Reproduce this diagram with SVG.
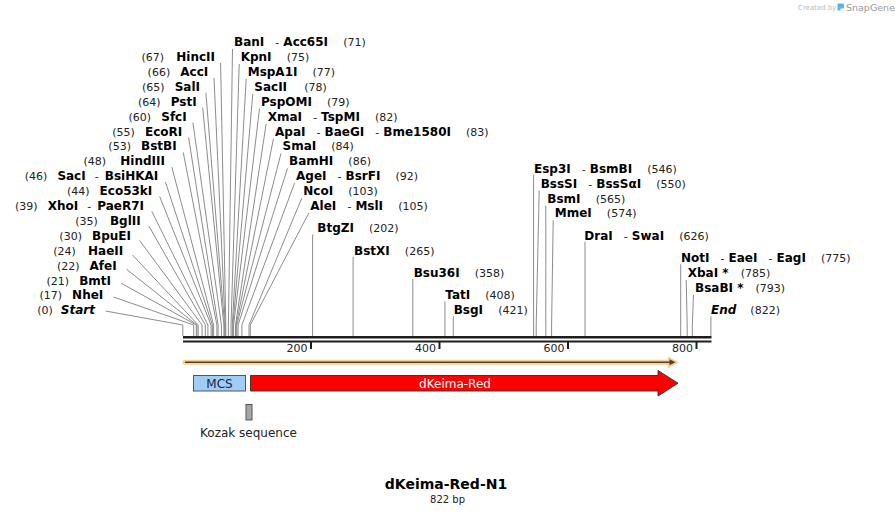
<svg xmlns="http://www.w3.org/2000/svg" width="895" height="515" viewBox="0 0 895 515">
<style>
text{font-family:"DejaVu Sans",Verdana,sans-serif}
.n{font-size:12px;font-weight:bold;fill:#000}
.p{font-size:11px;font-weight:normal;font-style:normal;fill:#222}
.it{font-style:italic}
.e{text-anchor:end}
.c{text-anchor:middle}
.ln{fill:none;stroke:#8c8c8c;stroke-width:1}
.f{font-size:12px}
</style>
<rect width="895" height="515" fill="#fff"/>

<g id="watermark">
<text x="798" y="10" style="font-size:7px;fill:#bdbdbd">Created by</text>
<path d="M837.5,3.5 h5 a1.5,1.5 0 0 1 1.5,1.5 v2 a1.5,1.5 0 0 1 -1.5,1.5 h-2 v2 h-3 z" fill="#5ab4ee"/>
<text x="846" y="10.5" style="font-size:9.5px;fill:#9a9a9a">SnapGene</text>
</g>

<g id="connectors">
<polyline class="ln" points="220.6,63 225.8,325 225.8,336"/>
<polyline class="ln" points="214,77.9 225.2,325 225.2,336"/>
<polyline class="ln" points="205.9,92.8 224.6,325 224.6,336"/>
<polyline class="ln" points="202.7,107.6 223.9,325 223.9,336"/>
<polyline class="ln" points="192.9,122.5 221.4,325 221.4,336"/>
<polyline class="ln" points="188.6,137.4 218.1,325 218.1,336"/>
<polyline class="ln" points="183.2,152.3 216.9,325 216.9,336"/>
<polyline class="ln" points="171.8,167.1 213.6,325 213.6,336"/>
<polyline class="ln" points="165.4,181.9 212.4,325 212.4,336"/>
<polyline class="ln" points="159.7,196.6 211.1,325 211.1,336"/>
<polyline class="ln" points="151.8,211.3 207.9,325 207.9,336"/>
<polyline class="ln" points="148.8,226 205.3,325 205.3,336"/>
<polyline class="ln" points="139.6,240.5 202.1,325 202.1,336"/>
<polyline class="ln" points="132.4,254.9 198.2,325 198.2,336"/>
<polyline class="ln" points="126.3,269.1 196.9,325 196.9,336"/>
<polyline class="ln" points="121,283.1 196.3,325 196.3,336"/>
<polyline class="ln" points="113.6,297 193.7,325 193.7,336"/>
<polyline class="ln" points="105.5,311 182.8,325 182.8,336"/>
<polyline class="ln" points="232.5,49.1 228.4,325 228.4,336"/>
<polyline class="ln" points="239.2,64 231,325 231,336"/>
<polyline class="ln" points="246.2,78.9 232.3,325 232.3,336"/>
<polyline class="ln" points="252.8,93.8 232.9,325 232.9,336"/>
<polyline class="ln" points="259.5,108.7 233.6,325 233.6,336"/>
<polyline class="ln" points="266.2,123.6 235.5,325 235.5,336"/>
<polyline class="ln" points="273.5,138.5 236.1,325 236.1,336"/>
<polyline class="ln" points="281,153.4 236.8,325 236.8,336"/>
<polyline class="ln" points="287.5,168.3 238.1,325 238.1,336"/>
<polyline class="ln" points="294.5,183.2 241.9,325 241.9,336"/>
<polyline class="ln" points="301.8,198.1 249,325 249,336"/>
<polyline class="ln" points="308.8,213 250.3,325 250.3,336"/>
<polyline class="ln" points="312.6,234.4 312.6,336"/>
<polyline class="ln" points="353.1,256.7 353.1,336"/>
<polyline class="ln" points="412.8,279 412.8,336"/>
<polyline class="ln" points="444.9,301.4 444.9,336"/>
<polyline class="ln" points="453.3,316.3 453.3,336"/>
<polyline class="ln" points="533.6,174.8 533.6,336"/>
<polyline class="ln" points="539.2,190.6 536.2,325 536.2,336"/>
<polyline class="ln" points="545.8,205.5 545.8,336"/>
<polyline class="ln" points="553.2,220.4 551.6,325 551.6,336"/>
<polyline class="ln" points="585,241.8 585,336"/>
<polyline class="ln" points="680.7,264.2 680.7,336"/>
<polyline class="ln" points="686.2,280 687.2,325 687.2,336"/>
<polyline class="ln" points="693.5,295 692.3,325 692.3,336"/>
<polyline class="ln" points="710.9,316.3 710.9,336"/>
</g>

<g id="sequence">
<line x1="183" y1="337.2" x2="711.5" y2="337.2" stroke="#1e1e1e" stroke-width="2.5"/>
<line x1="183" y1="341.4" x2="711.5" y2="341.4" stroke="#1e1e1e" stroke-width="2"/>
<g stroke="#1e1e1e" stroke-width="2">
<line x1="311" y1="342" x2="311" y2="349"/>
<line x1="439.5" y1="342" x2="439.5" y2="349"/>
<line x1="568" y1="342" x2="568" y2="349"/>
<line x1="696.5" y1="342" x2="696.5" y2="349"/>
</g>
<text class="p e" x="307.5" y="352">200</text>
<text class="p e" x="436" y="352">400</text>
<text class="p e" x="564.5" y="352">600</text>
<text class="p e" x="693" y="352">800</text>
</g>

<g id="orf">
<line x1="185" y1="362.3" x2="672" y2="362.3" stroke="#fbcf8c" stroke-width="5" stroke-linecap="round"/>
<path d="M668.5,357.5 L677.5,362.3 L668.5,367.1 Z" fill="#fbcf8c" stroke="#fbcf8c" stroke-width="1.5" stroke-linejoin="round"/>
<line x1="185" y1="362.3" x2="672" y2="362.3" stroke="#4f4431" stroke-width="1.6"/>
<path d="M669.5,359.3 L675.5,362.3 L669.5,365.3 Z" fill="#4f4431"/>
</g>

<g id="mcs">
<rect x="193.5" y="375.5" width="52" height="15.5" fill="#9fcdf8" stroke="#555" stroke-width="1"/>
<text class="f c" x="219.5" y="387.5" fill="#1c2a3a">MCS</text>
</g>

<g id="dkeima">
<path d="M250.5,375.5 H658 V370.5 L678,383.2 L658,396 V391 H250.5 Z" fill="#ff0000" stroke="#3a3a3a" stroke-width="1"/>
<text class="f c" x="455" y="387.5" fill="#fff">dKeima-Red</text>
</g>

<g id="kozak">
<rect x="246" y="404.5" width="6" height="15.5" fill="#a6a6a6" stroke="#555" stroke-width="1"/>
<text class="f c" x="248.5" y="437" fill="#222">Kozak sequence</text>
</g>

<g id="title">
<text class="c" x="446" y="489" style="font-size:14px;font-weight:bold;fill:#000">dKeima-Red-N1</text>
<text class="c" x="447.5" y="502.5" style="font-size:10px;fill:#222">822 bp</text>
</g>

<g id="labels-left">
<text id="HincII" class="e" x="215" y="61"><tspan class="p">(67)</tspan><tspan class="n" dx="12.2">HincII</tspan></text>
<text id="AccI" class="e" x="208.3" y="75.9"><tspan class="p">(66)</tspan><tspan class="n" dx="10.1">AccI</tspan></text>
<text id="SalI" class="e" x="200" y="90.8"><tspan class="p">(65)</tspan><tspan class="n" dx="10.1">SalI</tspan></text>
<text id="PstI" class="e" x="196.7" y="105.7"><tspan class="p">(64)</tspan><tspan class="n" dx="10.1">PstI</tspan></text>
<text id="SfcI" class="e" x="186.7" y="120.6"><tspan class="p">(60)</tspan><tspan class="n" dx="10.1">SfcI</tspan></text>
<text id="EcoRI" class="e" x="182.3" y="135.5"><tspan class="p">(55)</tspan><tspan class="n" dx="10.1">EcoRI</tspan></text>
<text id="BstBI" class="e" x="176.7" y="150.4"><tspan class="p">(53)</tspan><tspan class="n" dx="10.1">BstBI</tspan></text>
<text id="HindIII" class="e" x="165" y="165.3"><tspan class="p">(48)</tspan><tspan class="n" dx="14.2">HindIII</tspan></text>
<text id="SacI" class="e" x="158.3" y="180.2"><tspan class="p">(46)</tspan><tspan class="n" dx="10.1">SacI</tspan><tspan class="p" dx="9">-</tspan><tspan class="n" dx="6.1">BsiHKAI</tspan></text>
<text id="Eco53kI" class="e" x="152.3" y="195.1"><tspan class="p">(44)</tspan><tspan class="n" dx="10.1">Eco53kI</tspan></text>
<text id="XhoI" class="e" x="144" y="210"><tspan class="p">(39)</tspan><tspan class="n" dx="10.1">XhoI</tspan><tspan class="p" dx="9">-</tspan><tspan class="n" dx="6.1">PaeR7I</tspan></text>
<text id="BglII" class="e" x="140.7" y="224.9"><tspan class="p">(35)</tspan><tspan class="n" dx="12.2">BglII</tspan></text>
<text id="BpuEI" class="e" x="131" y="239.8"><tspan class="p">(30)</tspan><tspan class="n" dx="10.1">BpuEI</tspan></text>
<text id="HaeII" class="e" x="123.3" y="254.7"><tspan class="p">(24)</tspan><tspan class="n" dx="12.2">HaeII</tspan></text>
<text id="AfeI" class="e" x="116.7" y="269.6"><tspan class="p">(22)</tspan><tspan class="n" dx="10.1">AfeI</tspan></text>
<text id="BmtI" class="e" x="111" y="284.5"><tspan class="p">(21)</tspan><tspan class="n" dx="10.1">BmtI</tspan></text>
<text id="NheI" class="e" x="103.3" y="299.4"><tspan class="p">(17)</tspan><tspan class="n" dx="10.1">NheI</tspan></text>
<text id="Start" class="e" x="95" y="314.3"><tspan class="p">(0)</tspan><tspan class="n it" dx="8">Start</tspan></text>
</g>

<g id="labels-right">
<text id="BanI" x="234" y="46.1"><tspan class="n">BanI</tspan><tspan class="p" dx="11.1">-</tspan><tspan class="n" dx="4">Acc65I</tspan><tspan class="p" dx="15.1">(71)</tspan></text>
<text id="KpnI" x="240.7" y="61"><tspan class="n">KpnI</tspan><tspan class="p" dx="15.1">(75)</tspan></text>
<text id="MspA1I" x="247.7" y="75.9"><tspan class="n">MspA1I</tspan><tspan class="p" dx="15.1">(77)</tspan></text>
<text id="SacII" x="254.3" y="90.8"><tspan class="n">SacII</tspan><tspan class="p" dx="17.2">(78)</tspan></text>
<text id="PspOMI" x="261" y="105.7"><tspan class="n">PspOMI</tspan><tspan class="p" dx="15.1">(79)</tspan></text>
<text id="XmaI" x="267.7" y="120.6"><tspan class="n">XmaI</tspan><tspan class="p" dx="11.1">-</tspan><tspan class="n" dx="4">TspMI</tspan><tspan class="p" dx="15.1">(82)</tspan></text>
<text id="ApaI" x="275" y="135.5"><tspan class="n">ApaI</tspan><tspan class="p" dx="11.1">-</tspan><tspan class="n" dx="4">BaeGI</tspan><tspan class="p" dx="11.1">-</tspan><tspan class="n" dx="4">Bme1580I</tspan><tspan class="p" dx="15.1">(83)</tspan></text>
<text id="SmaI" x="282.5" y="150.4"><tspan class="n">SmaI</tspan><tspan class="p" dx="15.1">(84)</tspan></text>
<text id="BamHI" x="289" y="165.3"><tspan class="n">BamHI</tspan><tspan class="p" dx="15.1">(86)</tspan></text>
<text id="AgeI" x="296" y="180.2"><tspan class="n">AgeI</tspan><tspan class="p" dx="11.1">-</tspan><tspan class="n" dx="4">BsrFI</tspan><tspan class="p" dx="15.1">(92)</tspan></text>
<text id="NcoI" x="303.3" y="195.1"><tspan class="n">NcoI</tspan><tspan class="p" dx="15.1">(103)</tspan></text>
<text id="AleI" x="310.3" y="210"><tspan class="n">AleI</tspan><tspan class="p" dx="11.1">-</tspan><tspan class="n" dx="4">MslI</tspan><tspan class="p" dx="15.1">(105)</tspan></text>
<text id="BtgZI" x="317.3" y="232.4"><tspan class="n">BtgZI</tspan><tspan class="p" dx="15.1">(202)</tspan></text>
<text id="BstXI" x="354" y="254.7"><tspan class="n">BstXI</tspan><tspan class="p" dx="15.1">(265)</tspan></text>
<text id="Bsu36I" x="413.7" y="277"><tspan class="n">Bsu36I</tspan><tspan class="p" dx="15.1">(358)</tspan></text>
<text id="TatI" x="445.3" y="299.4"><tspan class="n">TatI</tspan><tspan class="p" dx="15.1">(408)</tspan></text>
<text id="BsgI" x="453.7" y="314.3"><tspan class="n">BsgI</tspan><tspan class="p" dx="15.1">(421)</tspan></text>
<text id="Esp3I" x="534" y="172.8"><tspan class="n">Esp3I</tspan><tspan class="p" dx="11.1">-</tspan><tspan class="n" dx="4">BsmBI</tspan><tspan class="p" dx="15.1">(546)</tspan></text>
<text id="BssSI" x="540.7" y="187.7"><tspan class="n">BssSI</tspan><tspan class="p" dx="11.1">-</tspan><tspan class="n" dx="4">BssSαI</tspan><tspan class="p" dx="15.1">(550)</tspan></text>
<text id="BsmI" x="547.3" y="202.5"><tspan class="n">BsmI</tspan><tspan class="p" dx="15.1">(565)</tspan></text>
<text id="MmeI" x="554.7" y="217.4"><tspan class="n">MmeI</tspan><tspan class="p" dx="15.1">(574)</tspan></text>
<text id="DraI" x="584.3" y="239.8"><tspan class="n">DraI</tspan><tspan class="p" dx="11.1">-</tspan><tspan class="n" dx="4">SwaI</tspan><tspan class="p" dx="15.1">(626)</tspan></text>
<text id="NotI" x="681" y="262.2"><tspan class="n">NotI</tspan><tspan class="p" dx="11.1">-</tspan><tspan class="n" dx="4">EaeI</tspan><tspan class="p" dx="11.1">-</tspan><tspan class="n" dx="4">EagI</tspan><tspan class="p" dx="15.1">(775)</tspan></text>
<text id="XbaI" x="687.7" y="277"><tspan class="n">XbaI *</tspan><tspan class="p" dx="12.1">(785)</tspan></text>
<text id="BsaBI" x="695" y="292"><tspan class="n">BsaBI *</tspan><tspan class="p" dx="12.1">(793)</tspan></text>
<text id="End" x="711" y="314.3"><tspan class="n it">End</tspan><tspan class="p" dx="14">(822)</tspan></text>
</g>
</svg>
